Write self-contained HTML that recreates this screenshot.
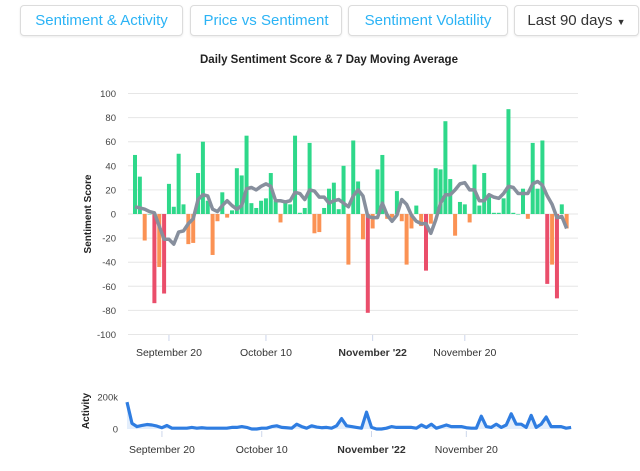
<!DOCTYPE html>
<html><head><meta charset="utf-8"><style>
body{margin:0;width:640px;height:471px;background:#fff;overflow:hidden;font-family:"Liberation Sans",sans-serif;position:relative}
.btn{position:absolute;top:5px;height:31px;border:1px solid #dcdcdc;border-radius:4px;box-sizing:border-box;font-size:15px;line-height:29px;text-align:center;color:#2bb3f5;background:#fff;box-shadow:0 1px 2px rgba(0,0,0,.08)}
</style></head><body>
<div class="btn" style="left:20px;width:163px">Sentiment &amp; Activity</div>
<div class="btn" style="left:190px;width:152px">Price vs Sentiment</div>
<div class="btn" style="left:348px;width:160px">Sentiment Volatility</div>
<div class="btn" style="left:514px;width:125px;color:#333">Last 90 days <span style="font-size:9px">▼</span></div>
<svg id="c" width="640" height="471" style="position:absolute;left:0;top:0;pointer-events:none">
<text x="329" y="63" text-anchor="middle" font-size="11.5" font-weight="bold" fill="#222">Daily Sentiment Score &amp; 7 Day Moving Average</text>
<text transform="translate(91,214) rotate(-90)" text-anchor="middle" font-size="10" font-weight="bold" fill="#222">Sentiment Score</text>
<text transform="translate(89,411) rotate(-90)" text-anchor="middle" font-size="10" font-weight="bold" fill="#222">Activity</text>
</svg>
<script>
const scores=[49,31,-22,0,-74,-44,-66,25,6,50,8,-25,-24,34,60,11,-34,-6,18,-3,3,38,32,65,9,5,11,13,34,11,-7,11,8,65,1,5,59,-16,-15,5,21,26,4,40,-42,61,27,-21,-82,-12,37,49,-4,-3,19,-6,-42,-12,7,-10,-47,-8,38,37,77,29,-18,10,8,-7,41,7,34,14,1,1,13,87,1,0,21,-4,59,21,61,-58,-42,-70,8,-12];
const movingAvg=[6,5,4,2,1,-10,-21,-21,-25,-15,-14,-8,-4,12,16,15,4,2,7,11,7,4,7,21,22,20,23,25,23,11,11,10,11,18,17,12,20,19,14,14,9,11,12,9,6,15,20,15,-2,-3,-3,9,-1,-6,-1,12,8,-1,-6,-8,-8,-16,-5,9,16,16,20,25,26,20,20,11,11,16,14,13,17,23,22,17,17,17,25,27,24,15,8,-3,-2,-12];
const activity=[168,35,15,22,28,25,18,8,22,5,5,5,5,10,5,8,5,5,5,5,5,10,10,15,10,0,0,5,5,15,20,10,8,5,30,15,5,20,12,8,10,5,20,65,20,15,10,5,105,10,0,0,5,15,10,10,10,10,5,25,10,30,5,15,25,15,15,15,8,5,5,80,15,10,30,10,25,95,30,30,10,85,10,30,75,15,15,15,5,10];
const yTicks=[100,80,60,40,20,0,-20,-40,-60,-80,-100];
const xTickLabels=["September 20","October 10","November '22","November 20"];
const xTickIdx=[7,27,49,68];
const actTicks=[0,200];
const actTickLabels=["0","200k"];
const svg=document.getElementById('c');const NS='http://www.w3.org/2000/svg';
function mk(t,a,txt){const e=document.createElementNS(NS,t);for(const k in a)e.setAttribute(k,a[k]);if(txt!==undefined)e.textContent=txt;svg.appendChild(e);return e;}
const xs=i=>135+i*4.85, ys=v=>214-v*1.205;
const xa=i=>127+i*4.99, ya=v=>429-v*0.16;
yTicks.forEach(v=>{
 const g=mk('line',{x1:128,x2:578,y1:ys(v),y2:ys(v),stroke:'#e6e6e6'});
 
 
 const t=mk('text',{x:116,y:ys(v)+3.5,'text-anchor':'end','font-size':'9.5',fill:'#444'},v);
 
 
});
xTickIdx.forEach((d,k)=>{
 const tk=mk('line',{x1:xs(d),x2:xs(d),y1:335,y2:341,stroke:'#ccd6eb'});
 
 
 const t=mk('text',{x:xs(d),y:356,'text-anchor':'middle','font-size':'10.5',fill:'#333','font-weight':k==2?'bold':'normal'},xTickLabels[k]);
 
 
});
scores.forEach((v,i)=>{
 const c=v>=0?'#2ed88a':(v<=-45?'#ea4e6b':'#fb9254');
 const y0=ys(Math.max(v,0)),h=Math.abs(ys(v)-ys(0));
 const r=mk('rect',{x:xs(i)-2,y:y0,width:4,height:Math.max(h,0.5),fill:c});
 
 
});
const ma=mk('polyline',{points:movingAvg.map((v,i)=>xs(i)+','+ys(v)).join(' '),fill:'none',stroke:'#878f9d','stroke-width':3.5,'stroke-linejoin':'round'});


actTicks.forEach((v,k)=>{
 const t=mk('text',{x:118,y:ya(v)+3.5,'text-anchor':'end','font-size':'9.5',fill:'#444'},actTickLabels[k]);
 
 
});
const pts=activity.map((v,i)=>xa(i)+','+ya(v)).join(' ');
const area=mk('polygon',{points:xa(0)+','+ya(0)+' '+pts+' '+xa(activity.length-1)+','+ya(0),fill:'#e3eefc'});


const al=mk('polyline',{points:pts,fill:'none',stroke:'#2f7de1','stroke-width':3.2,'stroke-linejoin':'round'});


xTickIdx.forEach((d,k)=>{
 const tk=mk('line',{x1:xa(d),x2:xa(d),y1:431,y2:437,stroke:'#ccd6eb'});
 
 
 const t=mk('text',{x:xa(d),y:453,'text-anchor':'middle','font-size':'10.5',fill:'#333','font-weight':k==2?'bold':'normal'},xTickLabels[k]);
 
 
});
</script>
</body></html>
